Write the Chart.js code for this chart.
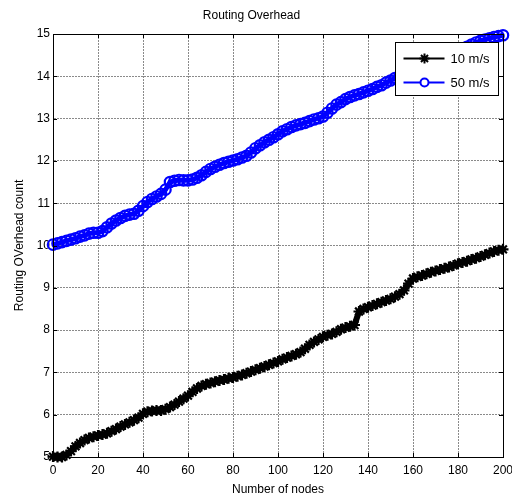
<!DOCTYPE html>
<html><head><meta charset="utf-8">
<script src="https://cdn.jsdelivr.net/npm/chart.js@4.4.1/dist/chart.umd.min.js"></script>
<style>html,body{margin:0;padding:0;background:#fff;}#wrap{width:512px;height:502px;}</style>
</head><body><div id="wrap"><canvas id="c" width="512" height="502"></canvas></div>
<script>
const nodes = [0,2,4,6,8,10,12,14,16,18,20,22,24,26,28,30,32,34,36,38,40,42,44,46,48,50,52,54,56,58,60,62,64,66,68,70,72,74,76,78,80,82,84,86,88,90,92,94,96,98,100,102,104,106,108,110,112,114,116,118,120,122,124,126,128,130,132,134,136,138,140,142,144,146,148,150,152,154,156,158,160,162,164,166,168,170,172,174,176,178,180,182,184,186,188,190,192,194,196,198,200];
const speed10 = [5.01,5.00,5.00,5.05,5.14,5.25,5.33,5.40,5.45,5.48,5.51,5.53,5.56,5.61,5.66,5.72,5.77,5.82,5.87,5.93,6.02,6.07,6.09,6.10,6.10,6.13,6.18,6.24,6.31,6.38,6.45,6.54,6.62,6.68,6.72,6.75,6.78,6.81,6.83,6.86,6.88,6.91,6.94,6.98,7.02,7.06,7.10,7.14,7.18,7.22,7.26,7.31,7.35,7.39,7.43,7.48,7.56,7.65,7.72,7.78,7.84,7.88,7.91,7.96,8.02,8.06,8.09,8.12,8.44,8.50,8.54,8.58,8.62,8.66,8.70,8.74,8.79,8.85,8.94,9.10,9.22,9.26,9.29,9.33,9.37,9.40,9.43,9.46,9.49,9.53,9.57,9.60,9.63,9.67,9.70,9.74,9.78,9.82,9.86,9.89,9.91];
const speed50 = [10.02,10.05,10.08,10.11,10.14,10.17,10.21,10.24,10.28,10.30,10.30,10.34,10.43,10.52,10.59,10.65,10.70,10.73,10.75,10.82,10.93,11.03,11.10,11.16,11.22,11.32,11.50,11.53,11.55,11.54,11.54,11.56,11.60,11.66,11.74,11.81,11.86,11.91,11.95,11.98,12.01,12.04,12.08,12.12,12.20,12.30,12.37,12.44,12.50,12.56,12.63,12.70,12.75,12.80,12.84,12.87,12.90,12.94,12.98,13.01,13.05,13.14,13.24,13.33,13.39,13.46,13.51,13.55,13.58,13.62,13.66,13.70,13.75,13.79,13.85,13.90,13.96,14.00,14.05,14.09,14.13,14.17,14.21,14.26,14.30,14.35,14.40,14.45,14.50,14.55,14.60,14.65,14.70,14.75,14.80,14.84,14.87,14.90,14.93,14.95,14.97];
const seriesNames = ['10 m/s','50 m/s'];
const xTicks = [0,20,40,60,80,100,120,140,160,180,200];
const yTicks = [5,6,7,8,9,10,11,12,13,14,15];

const FONT = "'Liberation Sans', Arial, Helvetica, sans-serif";
const toXY = vals => nodes.map((n,i)=>({x:n,y:vals[i]}));

const matlabPlugin = {
  id:'matlabBox',
  afterDatasetsDraw(chart){
    const ctx = chart.ctx, a = chart.chartArea;
    const xs = chart.scales.x, ys = chart.scales.y;
    ctx.save();
    ctx.strokeStyle = '#000'; ctx.lineWidth = 1;
    ctx.beginPath();
    xTicks.forEach(v=>{
      const px = Math.round(xs.getPixelForValue(v))+0.5;
      ctx.moveTo(px,a.bottom); ctx.lineTo(px,a.bottom-4);
      ctx.moveTo(px,a.top); ctx.lineTo(px,a.top+4);
    });
    yTicks.forEach(v=>{
      const py = Math.round(ys.getPixelForValue(v))+0.5;
      ctx.moveTo(a.left,py); ctx.lineTo(a.left+4,py);
      ctx.moveTo(a.right,py); ctx.lineTo(a.right-4,py);
    });
    ctx.stroke();
    ctx.strokeRect(Math.round(a.left)+0.5, Math.round(a.top)+0.5, Math.round(a.right-a.left), Math.round(a.bottom-a.top));
    // legend
    const bx = Math.round(a.right)-108+0.5, by = Math.round(a.top)+8+0.5, bw = 103, bh = 53;
    ctx.fillStyle = '#fff'; ctx.fillRect(bx,by,bw,bh);
    ctx.strokeStyle = '#000'; ctx.lineWidth = 1; ctx.strokeRect(bx,by,bw,bh);
    const ds = chart.data.datasets;
    ds.forEach((d,i)=>{
      const cy = by + 16 + i*24;
      ctx.strokeStyle = d.pointBorderColor; ctx.lineWidth = 2;
      ctx.beginPath(); ctx.moveTo(bx+8,cy); ctx.lineTo(bx+49,cy); ctx.stroke();
      ctx.fillStyle = d.pointStyle === 'circle' ? '#fff' : d.pointBorderColor;
      ctx.strokeStyle = d.pointBorderColor;
      ctx.lineWidth = 2;
      Chart.helpers.drawPoint(ctx,{pointStyle:d.pointStyle,radius:d.pointStyle==='circle'?4:5,borderWidth:2,rotation:0}, bx+29, cy);
      ctx.fillStyle = '#000'; ctx.font = '13px '+FONT; ctx.textBaseline='middle'; ctx.textAlign='left';
      ctx.fillText(d.label, bx+55, cy+1);
    });
    ctx.restore();
  }
};

new Chart(document.getElementById('c'), {
  type:'line',
  data:{datasets:[
    {label:seriesNames[0], data:toXY(speed10), borderColor:'#000', backgroundColor:'#000', borderWidth:6,
     pointStyle:'star', pointRadius:5.5, pointBorderWidth:2.2, pointBorderColor:'#000', pointBackgroundColor:'#000', tension:0, clip:false},
    {label:seriesNames[1], data:toXY(speed50), borderColor:'#0000ff', backgroundColor:'#fff', borderWidth:5,
     pointStyle:'circle', pointRadius:5.2, pointBorderWidth:2.2, pointBorderColor:'#0000ff', pointBackgroundColor:'rgba(255,255,255,0)', tension:0, clip:false}
  ]},
  options:{
    responsive:false, devicePixelRatio:1, animation:false,
    layout:{padding:{left:0,right:9,top:0,bottom:0}},
    plugins:{
      legend:{display:false}, tooltip:{enabled:false},
      title:{display:true, text:'Routing Overhead', color:'#000', font:{family:FONT,size:12,weight:'normal'}, padding:{top:8,bottom:11.6}}
    },
    scales:{
      x:{type:'linear', min:0, max:200,
        afterBuildTicks(s){ s.ticks = xTicks.map(v=>({value:v})); },
        afterFit(s){ s.height = 45; s.paddingLeft = 0; s.paddingRight = 0; },
        ticks:{color:'#000', font:{family:FONT,size:12}, padding:6, maxRotation:0, autoSkip:false},
        grid:{color:'#8a8a8a', lineWidth:1, drawTicks:false},
        border:{color:'#000', width:1, dash:[2,1]},
        title:{display:true, text:'Number of nodes', color:'#000', font:{family:FONT,size:12}, padding:{top:2,bottom:5}}
      },
      y:{type:'linear', min:5, max:15,
        afterBuildTicks(s){ s.ticks = yTicks.map(v=>({value:v})); },
        afterFit(s){ s.width = 53; s.paddingTop = 0; s.paddingBottom = 0; },
        ticks:{color:'#000', font:{family:FONT,size:12}, padding:3, autoSkip:false},
        grid:{color:'#8a8a8a', lineWidth:1, drawTicks:false},
        border:{color:'#000', width:1, dash:[2,1]},
        title:{display:true, text:'Routing OVerhead count', color:'#000', font:{family:FONT,size:12}, padding:{top:12,bottom:0}}
      }
    }
  },
  plugins:[matlabPlugin]
});
</script></body></html>
